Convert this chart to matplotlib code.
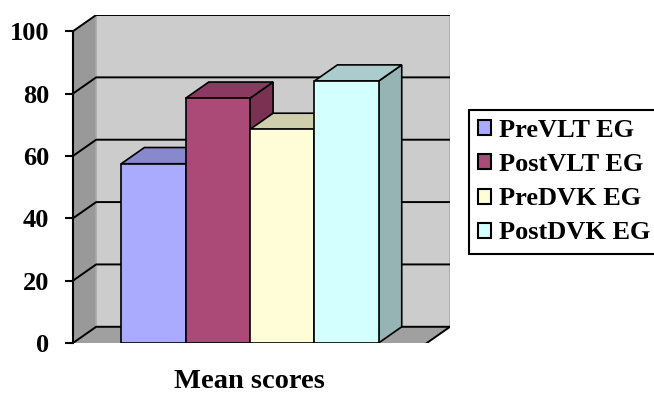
import matplotlib
matplotlib.use('Agg')
import matplotlib.pyplot as plt
from matplotlib.patches import Polygon, Rectangle
from matplotlib.transforms import blended_transform_factory

# --- data ---
series = ['PreVLT EG', 'PostVLT EG', 'PreDVK EG', 'PostDVK EG']
scores = [57.5, 78.5, 68.5, 84]
yticks = [0, 20, 40, 60, 80, 100]

# Excel-like 3D palette: front face, top face, right side
front_colors = ['#AAAAFF', '#AB4A77', '#FFFDD8', '#D4FFFF']
top_colors = ['#8888CC', '#8A3A60', '#CFCFAD', '#AACCCC']
side_colors = ['#6E6EA6', '#7A3152', '#B8B896', '#96B4B4']

plt.rcParams['font.family'] = ['Liberation Serif', 'DejaVu Serif']
plt.rcParams['font.weight'] = 'bold'

# depth offset of the fake 3D box (x in bar widths, y in score units)
DX, DY = 0.36, 5.2
X0, X1 = -0.75, len(scores) + 0.75
YMAX = 100

fig = plt.figure(figsize=(6.54, 3.94), dpi=100)
ax = fig.add_axes([73 / 654, 51 / 394, 377 / 654, 328 / 394])
ax.set_xlim(X0, X1 + DX)
ax.set_ylim(0, YMAX + DY)

# --- walls and floor ---
ax.add_patch(Polygon([(X0, 0), (X0 + DX, DY), (X0 + DX, YMAX + DY), (X0, YMAX)],
                     closed=True, fc='#999999', ec='none', zorder=1))
ax.add_patch(Rectangle((X0 + DX, DY), X1 - X0, YMAX, fc='#CCCCCC', ec='#A8A8A8',
                       lw=1.2, zorder=1))
ax.add_patch(Polygon([(X0, 0), (X1, 0), (X1 + DX, DY), (X0 + DX, DY)],
                     closed=True, fc='#A0A0A0', ec='none', zorder=1))

# gridlines across left wall and back wall
for v in yticks:
    ax.plot([X0, X0 + DX, X1 + DX], [v, v + DY, v + DY], color='black', lw=1.4,
            zorder=2, solid_capstyle='butt')
ax.plot([X1, X1 + DX], [0, DY], color='black', lw=1.4, zorder=2)

# --- 3D bars, drawn left to right so each front covers the previous side ---
for i, val in enumerate(scores):
    x = i
    z = 3 + i
    ax.add_patch(Polygon([(x + 1, 0), (x + 1 + DX, DY), (x + 1 + DX, val + DY), (x + 1, val)],
                         closed=True, fc=side_colors[i], ec='black', lw=1.2, zorder=z))
    ax.add_patch(Polygon([(x, val), (x + 1, val), (x + 1 + DX, val + DY), (x + DX, val + DY)],
                         closed=True, fc=top_colors[i], ec='black', lw=1.2, zorder=z))
    ax.add_patch(Rectangle((x, 0), 1, val, fc=front_colors[i], ec='black', lw=1.2, zorder=z))

# --- axes styling ---
for s in ['top', 'right', 'bottom']:
    ax.spines[s].set_visible(False)
ax.spines['left'].set_bounds(0, YMAX)
ax.spines['left'].set_linewidth(1.5)
ax.spines['left'].set_zorder(10)
ax.set_xticks([])
ax.set_yticks(yticks)
ax.tick_params(axis='y', direction='out', length=6, width=1.5, pad=11, labelsize=19)

trans = blended_transform_factory(ax.transData, fig.transFigure)
ax.text((X0 + X1) / 2, 0.014, 'Mean scores', transform=trans, ha='center',
        va='baseline', fontsize=20.5, fontweight='bold')

# --- legend (runs past the right edge, as in the reference) ---
handles = [Rectangle((0, 0), 1, 1, fc=c, ec='black', lw=1.5) for c in front_colors]
leg = fig.legend(handles, series, loc='upper left', bbox_to_anchor=(469 / 654, 1 - 110 / 394),
                 bbox_transform=fig.transFigure, fancybox=False, framealpha=1,
                 edgecolor='black', fontsize=19, handlelength=0.5, handleheight=0.5,
                 handletextpad=0.3, labelspacing=0.42, borderpad=0.35, borderaxespad=0)
leg.get_frame().set_linewidth(1.5)

fig.savefig('out.png', dpi=100)
